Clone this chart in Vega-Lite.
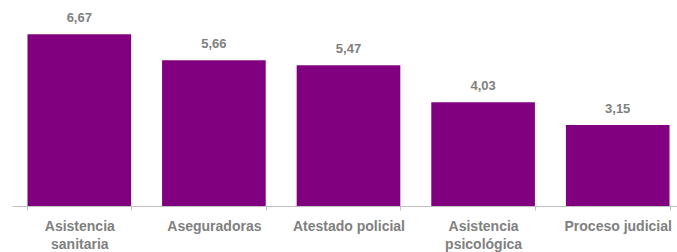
{
  "$schema": "https://vega.github.io/schema/vega-lite/v6.json",
  "autosize": {"type": "none"},
  "width": 673,
  "height": 206,
  "padding": {"left": 12, "top": 0, "right": 0, "bottom": 46},
  "config": {
    "view": {"stroke": null},
    "font": "Liberation Sans",
    "locale": {"number": {"decimal": ",", "thousands": ".", "grouping": [3], "currency": ["", " €"]}}
  },
  "data": {
    "values": [
      {"categoria": "Asistencia sanitaria", "valor": 6.67},
      {"categoria": "Aseguradoras", "valor": 5.66},
      {"categoria": "Atestado policial", "valor": 5.47},
      {"categoria": "Asistencia psicológica", "valor": 4.03},
      {"categoria": "Proceso judicial", "valor": 3.15}
    ]
  },
  "encoding": {
    "x": {
      "field": "categoria",
      "type": "nominal",
      "sort": null,
      "scale": {"paddingInner": 0.23, "paddingOuter": 0.115},
      "axis": {
        "title": null,
        "labelAngle": 0,
        "labelFont": "Liberation Sans",
        "labelFontSize": 14,
        "labelFontWeight": "bold",
        "labelColor": "#808080",
        "labelPadding": 9,
        "labelLineHeight": 18,
        "labelBaseline": "top",
        "labelExpr": "indexof(datum.label, 'Asistencia ') == 0 ? split(datum.label, ' ') : datum.label",
        "tickBand": "extent",
        "tickSize": 4,
        "tickColor": "#bfbfbf",
        "domainColor": "#bfbfbf",
        "domainWidth": 1,
        "grid": false
      }
    },
    "y": {
      "field": "valor",
      "type": "quantitative",
      "scale": {"domain": [0, 8]},
      "axis": null
    }
  },
  "layer": [
    {"mark": {"type": "bar", "color": "#800080"}},
    {
      "mark": {"type": "text", "dy": -12, "baseline": "alphabetic", "fontSize": 13, "fontWeight": "bold", "color": "#808080", "font": "Liberation Sans"},
      "encoding": {"text": {"field": "valor", "type": "quantitative", "format": ".2f"}}
    }
  ]
}
